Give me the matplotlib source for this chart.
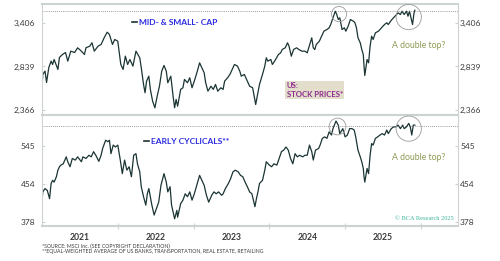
import numpy as np
import matplotlib
matplotlib.use("Agg")
import matplotlib.pyplot as plt
from matplotlib.lines import Line2D
from matplotlib.ticker import FixedLocator, FuncFormatter, NullLocator

# decimal years / index levels
mid_years = [2021.00, 2021.01, 2021.04, 2021.06, 2021.09, 2021.12, 2021.14, 2021.16, 2021.21, 2021.23,
             2021.27, 2021.31, 2021.34, 2021.38, 2021.43, 2021.47, 2021.52, 2021.56, 2021.58, 2021.63,
             2021.66, 2021.69, 2021.74, 2021.78, 2021.82, 2021.86, 2021.89, 2021.93, 2021.96, 2022.00,
             2022.04, 2022.07, 2022.10, 2022.13, 2022.16, 2022.20, 2022.24, 2022.29, 2022.31, 2022.34,
             2022.36, 2022.38, 2022.41, 2022.43, 2022.46, 2022.49, 2022.52, 2022.55, 2022.58, 2022.61,
             2022.64, 2022.66, 2022.70, 2022.73, 2022.75, 2022.77, 2022.79, 2022.83, 2022.86, 2022.88,
             2022.92, 2022.95, 2022.98, 2023.01, 2023.05, 2023.08, 2023.11, 2023.14, 2023.16, 2023.19,
             2023.23, 2023.26, 2023.29, 2023.32, 2023.36, 2023.39, 2023.41, 2023.45, 2023.48, 2023.51,
             2023.54, 2023.58, 2023.61, 2023.63, 2023.67, 2023.70, 2023.74, 2023.78, 2023.80, 2023.82,
             2023.85, 2023.87, 2023.91, 2023.94, 2023.96, 2023.98, 2024.02, 2024.04, 2024.07, 2024.12,
             2024.15, 2024.17, 2024.21, 2024.24, 2024.26, 2024.29, 2024.32, 2024.36, 2024.39, 2024.43,
             2024.47, 2024.50, 2024.54, 2024.56, 2024.58, 2024.60, 2024.62, 2024.66, 2024.69, 2024.72,
             2024.76, 2024.79, 2024.81, 2024.84, 2024.87, 2024.89, 2024.91, 2024.93, 2024.96, 2024.99,
             2025.01, 2025.04, 2025.07, 2025.11, 2025.13, 2025.15, 2025.17, 2025.20, 2025.22, 2025.24,
             2025.25, 2025.26, 2025.29, 2025.31, 2025.33, 2025.35, 2025.37, 2025.40, 2025.44, 2025.48,
             2025.52, 2025.55, 2025.57, 2025.61, 2025.64, 2025.66, 2025.70, 2025.73, 2025.75, 2025.78,
             2025.81, 2025.83, 2025.85, 2025.87, 2025.89, 2025.91, 2025.92]
mid_vals = [2586, 2746, 2784, 2655, 2827, 2903, 2863, 2923, 2804, 2948,
            2985, 3010, 2903, 3027, 3010, 3070, 3027, 2985, 3070, 3091,
            3135, 3027, 3091, 3113, 3201, 3277, 3246, 3113, 3179, 3156,
            2863, 2804, 2964, 2863, 2923, 2843, 3027, 2944, 2824, 2633,
            2543, 2670, 2726, 2579, 2455, 2388, 2507, 2614, 2784, 2851,
            2784, 2652, 2726, 2507, 2388, 2473, 2404, 2579, 2597, 2689,
            2652, 2708, 2597, 2670, 2784, 2883, 2824, 2765, 2652, 2560,
            2614, 2579, 2633, 2560, 2597, 2579, 2670, 2708, 2746, 2804,
            2863, 2843, 2784, 2726, 2746, 2689, 2614, 2597, 2507, 2421,
            2543, 2633, 2746, 2843, 2944, 2903, 2923, 2863, 2903, 2985,
            3006, 3048, 3070, 3135, 3091, 2964, 3048, 3070, 3048, 3027,
            3027, 3006, 3135, 3201, 3070, 3048, 3113, 3156, 3223, 3291,
            3314, 3338, 3384, 3481, 3578, 3529, 3456, 3481, 3314, 3338,
            3291, 3360, 3456, 3431, 3409, 3338, 3201, 3135, 3048, 2985,
            2843, 2734, 2923, 2883, 3091, 3223, 3179, 3269, 3291, 3338,
            3384, 3409, 3384, 3446, 3481, 3504, 3554, 3529, 3578, 3529,
            3578, 3504, 3578, 3481, 3384, 3554, 3593]

cyc_years = [2021.00, 2021.01, 2021.04, 2021.07, 2021.10, 2021.12, 2021.14, 2021.16, 2021.19, 2021.21,
             2021.23, 2021.25, 2021.28, 2021.32, 2021.34, 2021.37, 2021.40, 2021.44, 2021.47, 2021.52,
             2021.54, 2021.58, 2021.62, 2021.65, 2021.68, 2021.71, 2021.75, 2021.78, 2021.80, 2021.84,
             2021.87, 2021.89, 2021.91, 2021.94, 2021.97, 2022.00, 2022.03, 2022.06, 2022.09, 2022.12,
             2022.15, 2022.18, 2022.21, 2022.24, 2022.26, 2022.29, 2022.31, 2022.34, 2022.37, 2022.39,
             2022.41, 2022.45, 2022.48, 2022.51, 2022.54, 2022.57, 2022.61, 2022.64, 2022.66, 2022.69,
             2022.71, 2022.75, 2022.78, 2022.79, 2022.83, 2022.86, 2022.89, 2022.92, 2022.95, 2022.98,
             2023.01, 2023.05, 2023.08, 2023.11, 2023.14, 2023.17, 2023.20, 2023.24, 2023.27, 2023.30,
             2023.33, 2023.37, 2023.39, 2023.42, 2023.46, 2023.49, 2023.52, 2023.55, 2023.59, 2023.62,
             2023.65, 2023.68, 2023.71, 2023.74, 2023.77, 2023.79, 2023.81, 2023.83, 2023.85, 2023.87,
             2023.91, 2023.94, 2023.96, 2024.00, 2024.03, 2024.06, 2024.10, 2024.13, 2024.16, 2024.19,
             2024.22, 2024.25, 2024.28, 2024.31, 2024.34, 2024.37, 2024.40, 2024.44, 2024.47, 2024.50,
             2024.53, 2024.56, 2024.58, 2024.61, 2024.65, 2024.67, 2024.70, 2024.73, 2024.76, 2024.79,
             2024.82, 2024.84, 2024.88, 2024.91, 2024.93, 2024.97, 2025.00, 2025.03, 2025.06, 2025.09,
             2025.12, 2025.14, 2025.17, 2025.20, 2025.22, 2025.24, 2025.25, 2025.26, 2025.29, 2025.31,
             2025.33, 2025.35, 2025.37, 2025.40, 2025.43, 2025.46, 2025.49, 2025.52, 2025.55, 2025.57,
             2025.61, 2025.64, 2025.67, 2025.70, 2025.73, 2025.76, 2025.78, 2025.81, 2025.84, 2025.86,
             2025.88, 2025.90, 2025.92]
cyc_vals = [416, 437, 444, 440, 423, 455, 462, 458, 470, 485,
            493, 497, 500, 517, 505, 493, 513, 509, 517, 505,
            517, 513, 521, 517, 530, 521, 506, 521, 538, 560,
            556, 560, 525, 547, 542, 547, 513, 477, 509, 485,
            493, 470, 521, 525, 500, 481, 448, 427, 410, 433,
            444, 410, 391, 403, 416, 451, 477, 458, 437, 448,
            410, 384, 400, 387, 413, 420, 433, 427, 437, 420,
            433, 455, 473, 462, 451, 430, 416, 430, 437, 433,
            437, 430, 433, 444, 455, 466, 481, 485, 481, 473,
            470, 458, 448, 437, 433, 420, 407, 423, 437, 455,
            462, 485, 505, 497, 493, 500, 497, 513, 530, 534,
            542, 534, 513, 500, 525, 517, 521, 517, 521, 521,
            547, 530, 509, 534, 538, 547, 565, 569, 565, 583,
            574, 592, 614, 602, 578, 592, 569, 574, 592, 592,
            588, 569, 534, 517, 505, 489, 470, 458, 489, 477,
            521, 551, 547, 565, 569, 574, 578, 574, 588, 578,
            592, 597, 597, 602, 592, 602, 592, 597, 607, 597,
            574, 602, 602]

mid_ticks = [2366, 2839, 3406]
cyc_ticks = [378, 454, 545]
mid_ref = 3580
cyc_ref = 600
year_labels = [2021, 2022, 2023, 2024, 2025]
# circled peaks: (year, level)
mid_circles = [(2024.92, 3535), (2025.84, 3492)]
cyc_circles = [(2024.90, 598), (2025.84, 592)]

LINE = "#1b3434"
FRAME = "#cdd3d3"
TXT = "#3a3a3a"

plt.rcParams["font.family"] = ["Lato", "DejaVu Sans"]

fig = plt.figure(figsize=(5.0, 2.61), dpi=100)
ax1 = fig.add_axes([0.084, 0.5594, 0.832, 0.4253])
ax2 = fig.add_axes([0.084, 0.1341, 0.832, 0.4253])


def style_panel(ax, ticks, ylim):
    ax.set_yscale("log")
    ax.set_xlim(2021.0, 2026.49)
    ax.set_ylim(*ylim)
    ax.yaxis.set_major_locator(FixedLocator(ticks))
    ax.yaxis.set_minor_locator(NullLocator())
    ax.yaxis.set_major_formatter(FuncFormatter(lambda v, p: f"{v:,.0f}"))
    ax.tick_params(axis="y", which="major", direction="in", length=2,
                   color=FRAME, labelsize=6, labelcolor=TXT, pad=5)
    for side in ["left", "right"]:
        ax.spines[side].set_color(FRAME)
        ax.spines[side].set_linewidth(0.8)
    for side in ["top", "bottom"]:
        ax.spines[side].set_color(FRAME)
        ax.spines[side].set_linewidth(1.5)
    # right-hand copy of the scale
    rx = ax.twinx()
    rx.set_yscale("log")
    rx.set_ylim(*ylim)
    rx.yaxis.set_major_locator(FixedLocator(ticks))
    rx.yaxis.set_minor_locator(NullLocator())
    rx.yaxis.set_major_formatter(FuncFormatter(lambda v, p: f"{v:,.0f}"))
    rx.tick_params(axis="y", which="major", direction="in", length=2,
                   color=FRAME, labelsize=6, labelcolor=TXT, pad=1.5)
    for s in rx.spines.values():
        s.set_visible(False)


style_panel(ax1, mid_ticks, (2317, 3688))
style_panel(ax2, cyc_ticks, (371, 632))

ax1.plot(mid_years, mid_vals, color=LINE, lw=0.9)
ax2.plot(cyc_years, cyc_vals, color=LINE, lw=0.9)

ax1.axhline(mid_ref, color="#7a7a7a", lw=0.6, ls=(0, (1, 1.5)))
ax2.axhline(cyc_ref, color="#7a7a7a", lw=0.6, ls=(0, (1, 1.5)))

for (cx, cy), s in zip(mid_circles, [120, 330]):
    ax1.scatter([cx], [cy], s=s, facecolors="none", edgecolors="#9a9a9a", lw=0.6, zorder=3)
for (cx, cy), s in zip(cyc_circles, [145, 330]):
    ax2.scatter([cx], [cy], s=s, facecolors="none", edgecolors="#9a9a9a", lw=0.6, zorder=3)

# x axis: year boundaries as ticks, labels mid-year
ax1.xaxis.set_major_locator(NullLocator())
ax1.xaxis.set_minor_locator(NullLocator())
ax2.xaxis.set_major_locator(FixedLocator([y + 1 for y in year_labels]))
ax2.xaxis.set_minor_locator(FixedLocator([y + 0.5 for y in year_labels]))
ax2.xaxis.set_major_formatter(FuncFormatter(lambda v, p: ""))
ax2.xaxis.set_minor_formatter(FuncFormatter(lambda v, p: f"{int(v)}"))
ax2.tick_params(axis="x", which="major", direction="inout", length=4, color=FRAME, width=0.8)
ax2.tick_params(axis="x", which="minor", length=0, labelsize=6.2, labelcolor=TXT, pad=5)
for lbl in ax2.xaxis.get_minorticklabels():
    lbl.set_fontweight("bold")

blue = "#2a2ae0"
h = [Line2D([], [], color=LINE, lw=1.2)]
ax1.legend(h, ["MID- & SMALL- CAP"], loc="center left", bbox_to_anchor=(0.217, 0.832),
           frameon=False, handlelength=0.6, handletextpad=0.2, borderpad=0, borderaxespad=0,
           prop={"size": 6.0, "weight": "bold"}, labelcolor=blue)
ax2.legend(h, ["EARLY CYCLICALS**"], loc="center left", bbox_to_anchor=(0.246, 0.759),
           frameon=False, handlelength=0.6, handletextpad=0.2, borderpad=0, borderaxespad=0,
           prop={"size": 6.0, "weight": "bold"}, labelcolor=blue)

ax1.text(0.588, 0.225, "US:\nSTOCK PRICES*", transform=ax1.transAxes, ha="left", va="center",
         fontsize=5.6, fontweight="bold", color="#8e2a8e", linespacing=1.2,
         bbox=dict(facecolor="#e3ddcc", edgecolor="none", pad=1.2))

olive = "#8c9a52"
ax1.text(0.841, 0.622, "A double top?", transform=ax1.transAxes, ha="left", va="center",
         fontsize=6.2, color=olive)
ax2.text(0.841, 0.613, "A double top?", transform=ax2.transAxes, ha="left", va="center",
         fontsize=6.2, color=olive)
ax2.text(0.99, 0.072, "© BCA Research 2025", transform=ax2.transAxes, ha="right", va="center",
         fontsize=4.6, color="#3fb5a0", family="Liberation Serif")

fig.text(0.084, 0.0575, "*SOURCE: MSCI Inc. (SEE COPYRIGHT DECLARATION)", fontsize=3.7,
         color=TXT, va="center", ha="left")
fig.text(0.084, 0.0345, "**EQUAL-WEIGHTED AVERAGE OF US BANKS, TRANSPORTATION, REAL ESTATE, RETAILING",
         fontsize=3.7, color=TXT, va="center", ha="left")

fig.savefig("out.png", dpi=100)
